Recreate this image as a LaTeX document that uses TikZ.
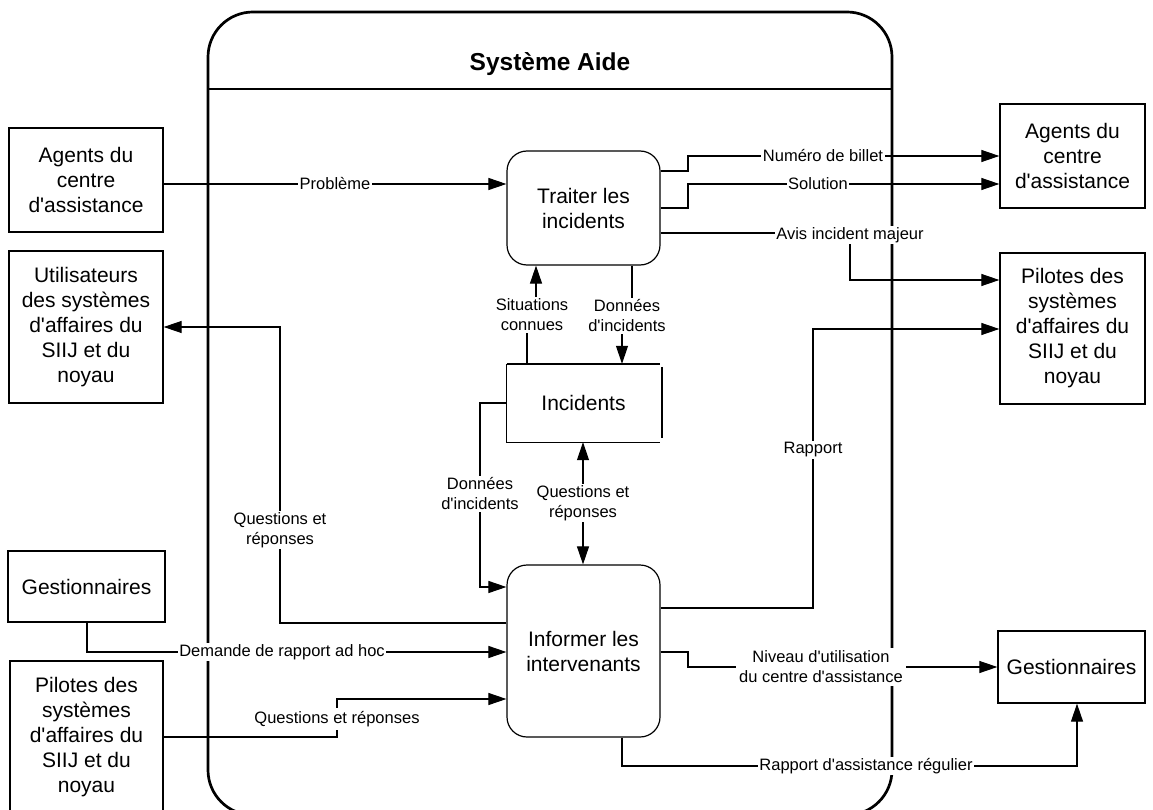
\documentclass[tikz,border=0pt]{standalone}
\usepackage{fontspec}
\setmainfont{Liberation Sans}[Ligatures=TeXOff]
\usetikzlibrary{arrows.meta}
\begin{document}
\begin{tikzpicture}[x=1pt,y=-1pt,
  ext/.style={draw, line width=1.3pt, align=center, inner sep=0pt, font=\fontsize{21}{25}\selectfont},
  proc/.style={draw, line width=1.2pt, rounded corners=20pt, align=center, inner sep=0pt, font=\fontsize{21}{25}\selectfont},
  arr/.style={draw, line width=1.1pt, -{Triangle[length=18pt,width=12pt]}},
  arrboth/.style={draw, line width=1.1pt, {Triangle[length=18pt,width=12pt]}-{Triangle[length=18pt,width=12pt]}},
  lbl/.style={fill=white, inner sep=1.5pt, align=center, font=\fontsize{16.5}{20}\selectfont}]
\clip (0,0) rectangle (1153,810);
\fill[white] (0,0) rectangle (1153,810);
% container
\draw[line width=2.7pt, rounded corners=45pt] (208,12) rectangle (892,815);
\draw[line width=2.5pt] (208,89) -- (892,89);
\node[font=\fontsize{24.5}{28}\selectfont\bfseries] (title) at (550,64) {Système Aide};
% external entities
\node[ext, minimum width=154pt, minimum height=104pt] (LA) at (86,180) {Agents du\\centre\\d'assistance};
\node[ext, minimum width=154pt, minimum height=152pt] (LU) at (86,327) {Utilisateurs\\des systèmes\\d'affaires du\\SIIJ et du\\noyau};
\node[ext, minimum width=157pt, minimum height=71pt] (LG) at (86.5,586.5) {Gestionnaires};
\node[ext, minimum width=153pt, minimum height=152pt] (LP) at (86.5,737) {Pilotes des\\systèmes\\d'affaires du\\SIIJ et du\\noyau};
\node[ext, minimum width=145pt, minimum height=104pt] (RA) at (1072.5,156) {Agents du\\centre\\d'assistance};
\node[ext, minimum width=145pt, minimum height=151pt] (RP) at (1072.5,328.5) {Pilotes des\\systèmes\\d'affaires du\\SIIJ et du\\noyau};
\node[ext, minimum width=147pt, minimum height=72pt] (RG) at (1071.5,667) {Gestionnaires};
% processes
\node[proc, minimum width=153pt, minimum height=114pt] (T) at (583.5,208) {Traiter les\\incidents};
\node[proc, minimum width=153pt, minimum height=172pt] (I) at (583.5,651) {Informer les\\intervenants};
% data store
\node[minimum width=153pt, minimum height=78pt, inner sep=0pt, font=\fontsize{21}{25}\selectfont] (Inc) at (583.5,403) {Incidents};
\draw[line width=2pt] (Inc.north west) -- (Inc.north east);
\draw[line width=1.2pt] (Inc.north west) -- (Inc.south west) -- (Inc.south east);
\draw[line width=2.5pt] ([xshift=2pt,yshift=-3pt]Inc.north east) -- ([xshift=2pt,yshift=4pt]Inc.south east);
% flows
\draw[arr] (LA.east |- 0,184) -- (T.west |- 0,184);
\node[lbl] (l1) at (335,184) {Problème};
\draw[arr] (T.east |- 0,171) -- (688,171) -- (688,156) -- (RA.west |- 0,156);
\node[lbl] (l2) at (823,156) {Numéro de billet};
\draw[arr] (T.east |- 0,208) -- (688,208) -- (688,184) -- (RA.west |- 0,184);
\node[lbl] (l3) at (818,184) {Solution};
\draw[arr] (T.east |- 0,233) -- (850,233) -- (850,280) -- (RP.west |- 0,280);
\node[lbl] (l4) at (850,235) {Avis incident majeur};
\draw[arr] (T.south -| 632,0) -- (632,310) -- (622,310) -- (Inc.north -| 622,0);
\node[lbl] (l5) at (627,316) {Données\\d'incidents};
\draw[arr] (Inc.north -| 527,0) -- (527,310) -- (536,310) -- (T.south -| 536,0);
\node[lbl] (l6) at (532,315) {Situations\\connues};
\draw[arr] (I.west |- 0,623) -- (280,623) -- (280,327) -- (LU.east |- 0,327);
\node[lbl] (l7) at (280,530) {Questions et\\réponses};
\draw[arr] (Inc.west |- 0,403) -- (480,403) -- (480,587) -- (I.west |- 0,587);
\node[lbl] (l8) at (480,494) {Données\\d'incidents};
\draw[arrboth] (Inc.south -| 583,0) -- (I.north -| 583,0);
\node[lbl] (l9) at (583,503) {Questions et\\réponses};
\draw[arr] (LG.south -| 87,0) -- (87,652) -- (I.west |- 0,652);
\node[lbl] (l10) at (282,652) {Demande de rapport ad hoc};
\draw[arr] (LP.east |- 0,737) -- (337,737) -- (337,699) -- (I.west |- 0,699);
\node[lbl, inner sep=3pt] (l11) at (337,719) {Questions et réponses};
\draw[arr] (I.east |- 0,608) -- (813,608) -- (813,329) -- (RP.west |- 0,329);
\node[lbl] (l12) at (813,450) {Rapport};
\draw[arr] (I.east |- 0,652) -- (688,652) -- (688,667) -- (RG.west |- 0,667);
\node[lbl, inner sep=3pt] (l13) at (821,667) {Niveau d'utilisation\\du centre d'assistance};
\draw[arr] (I.south -| 622,0) -- (622,766) -- (1077,766) -- (RG.south -| 1077,0);
\node[lbl] (l14) at (866,766) {Rapport d'assistance régulier};
\end{tikzpicture}
\end{document}
